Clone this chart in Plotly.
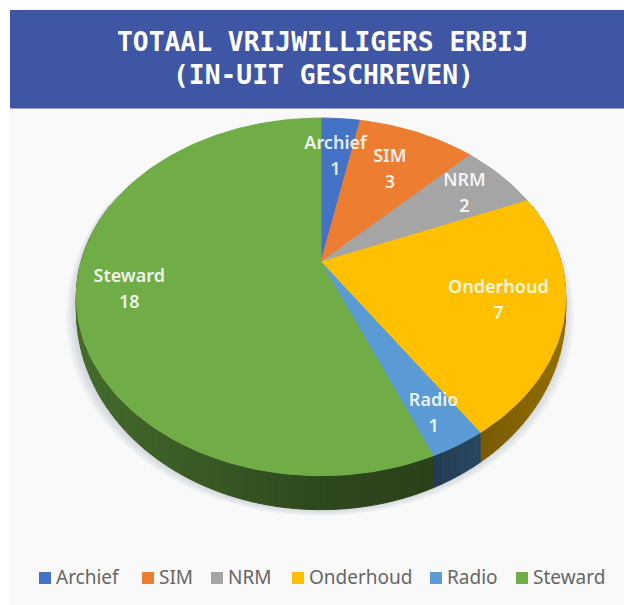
import numpy as np
import plotly.graph_objects as go

# --- data ---
categories = ["Archief", "SIM", "NRM", "Onderhoud", "Radio", "Steward"]
values = [1, 3, 2, 7, 1, 18]
title_lines = ["TOTAAL VRIJWILLIGERS ERBIJ", "(IN-UIT GESCHREVEN)"]

# --- styling / layout ---
colors = ["#4472C4", "#ED7D31", "#A5A5A5", "#FFC000", "#5B9BD5", "#70AD47"]
label_radius = [0.70, 0.68, 0.78, 0.74, 0.85, 0.79]
legend_marker_x = [45, 148, 217, 298, 436, 522]
CX, CY, R, K, P = 321, 262, 240, 172, 0.195


def project(theta, f=1.0):
    u, v = np.sin(theta) * f, np.cos(theta) * f
    s = 1 / (1 + P * v)
    return CX + R * u * s, CY - K * v * s


def wall(theta):
    return np.maximum(8 - 26 * np.cos(theta), 0)


def hex_rgb(h):
    return tuple(int(h[i:i + 2], 16) for i in (1, 3, 5))


def shade(x):
    return np.interp(x, [76, 320, 430, 480, 565], [0.62, 0.42, 0.38, 0.47, 0.58])


def poly(xs, ys, color, opacity=1.0):
    return go.Scatter(x=xs, y=ys, mode="lines", fill="toself", fillcolor=color,
                      line=dict(width=1 if opacity == 1.0 else 0, color=color),
                      opacity=opacity, showlegend=False, hoverinfo="skip")


fig = go.Figure()

total = sum(values)
edges = np.cumsum([0] + values) / total * 2 * np.pi

# soft drop shadow under the disc
full = np.linspace(0, 2 * np.pi, 241)
for grow in (9, 7, 5, 3, 1):
    sx, sy = project(full)
    sx = CX + (sx - CX) * (1 + grow / R) - 1
    sy = sy + wall(full) + grow * 0.7
    fig.add_trace(poly(sx, sy, "#8f93a8", 0.08))

# side walls, shaded with the slice colour
for a0, a1, col in zip(edges[:-1], edges[1:], colors):
    n = max(2, int((a1 - a0) / (2 * np.pi) * 220))
    th = np.linspace(a0, a1, n + 1)
    base = hex_rgb(col)
    for t0, t1 in zip(th[:-1], th[1:]):
        if np.cos((t0 + t1) / 2) > 0.35:
            continue
        x0, y0 = project(t0)
        x1, y1 = project(t1)
        d0, d1 = wall(t0), wall(t1)
        f = shade((x0 + x1) / 2)
        c = "rgb(%d,%d,%d)" % tuple(int(b * f) for b in base)
        fig.add_trace(poly([x0, x1, x1, x0, x0], [y0, y1, y1 + d1, y0 + d0, y0], c))

# top faces
for a0, a1, col in zip(edges[:-1], edges[1:], colors):
    th = np.linspace(a0, a1, max(3, int((a1 - a0) * 40)))
    x, y = project(th)
    fig.add_trace(poly(np.r_[CX, x, CX], np.r_[CY, y, CY], col))

# data labels
mids = (edges[:-1] + edges[1:]) / 2
lx, ly = project(mids, np.array(label_radius))
label_font = dict(family="Noto Sans", size=18, color="rgba(255,255,255,0.9)", weight=600)
fig.add_trace(go.Scatter(x=lx, y=ly - 12, mode="text", text=categories, textfont=label_font,
                         textposition="middle center", showlegend=False, hoverinfo="skip"))
fig.add_trace(go.Scatter(x=lx, y=ly + 14, mode="text", text=[str(v) for v in values], textfont=label_font,
                         textposition="middle center", showlegend=False, hoverinfo="skip"))

# legend row
fig.add_trace(go.Scatter(x=legend_marker_x, y=[578] * 6, mode="markers",
                         marker=dict(symbol="square", size=12, color=colors, line=dict(width=0)),
                         showlegend=False, hoverinfo="skip"))
fig.add_trace(go.Scatter(x=[m + 11 for m in legend_marker_x], y=[579] * 6, mode="text", text=categories,
                         textposition="middle right",
                         textfont=dict(family="Noto Sans", size=19, color="#666666"),
                         showlegend=False, hoverinfo="skip"))

fig.update_layout(
    width=624, height=605, margin=dict(l=0, r=0, t=0, b=0),
    paper_bgcolor="white", plot_bgcolor="white", showlegend=False,
    xaxis=dict(range=[0, 624], visible=False, fixedrange=True),
    yaxis=dict(range=[605, 0], visible=False, fixedrange=True),
    shapes=[
        dict(type="rect", x0=10, x1=624, y0=108, y1=605, fillcolor="#F9F9F9", line_width=0, layer="below"),
        dict(type="rect", x0=10, x1=624, y0=10, y1=108.5, fillcolor="#3F56A5", line_width=0, layer="below"),
    ],
    annotations=[
        dict(x=323, y=y, xref="x", yref="y", text="<b>%s</b>" % t, showarrow=False,
             font=dict(family="DejaVu Sans Mono", size=26.3, color="white"))
        for t, y in zip(title_lines, (42, 75))
    ],
)

fig.write_html("out.html", config=dict(displayModeBar=False),
               post_script="document.body.style.margin='0';document.body.style.overflow='hidden';")
